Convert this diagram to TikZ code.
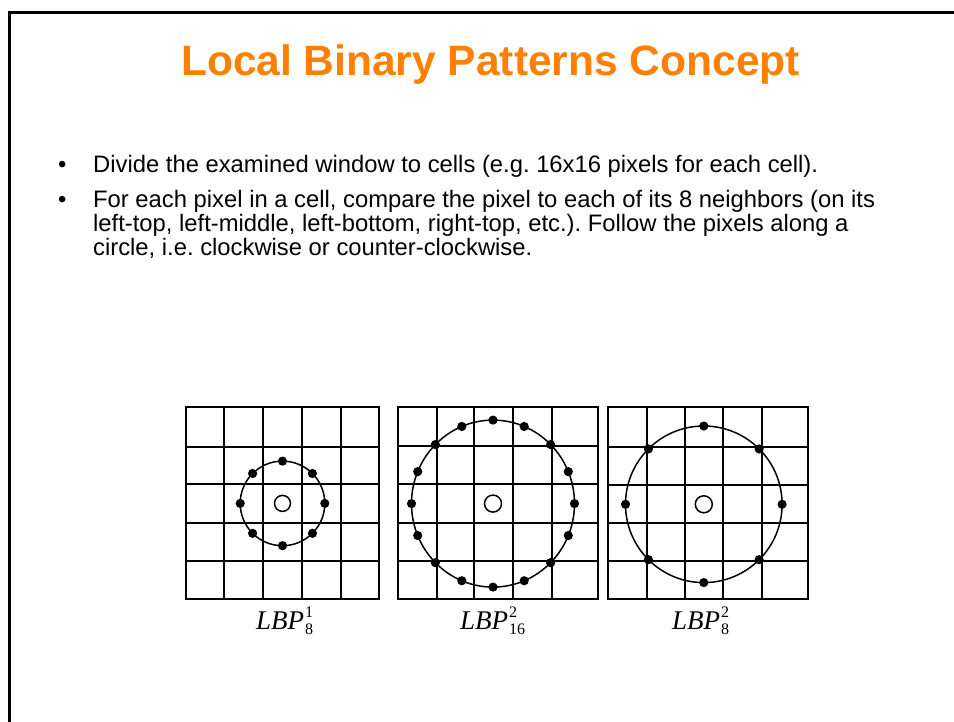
\documentclass[tikz,border=0pt]{standalone}
\usepackage{fontspec}
\setmainfont{Liberation Sans}
\newfontfamily\tms{Liberation Serif}
\definecolor{ttl}{RGB}{255,128,0}
\frenchspacing
\newcommand\lbplabel[2]{{\tms\itshape LBP}\kern1pt{\tms\fontsize{16}{16}\selectfont\rlap{\raisebox{11.5pt}{#1}}\raisebox{-5pt}{#2}}}
\tikzset{
  gridline/.style={line width=2.1pt, line cap=rect},
  ring/.style={line width=1.5pt},
  hole/.style={line width=1.5pt},
  body/.style={anchor=base west, inner sep=0pt, font=\fontsize{23.8}{24}\selectfont},
  lbl/.style={anchor=base west, inner sep=0pt, font=\fontsize{27}{28}\selectfont},
}
\begin{document}
\begin{tikzpicture}[x=1pt,y=-1pt]
\useasboundingbox (0,0) rectangle (954,722);
% frame
\draw[line width=3pt] (9.5,722) -- (9.5,12.5) -- (954,12.5);
% title
\node[anchor=base, inner sep=0pt, text=ttl, font=\fontsize{42.5}{48}\selectfont\bfseries] (title) at (490.5,76) {Local Binary Patterns Concept};
% bullets
\node[body] (b1) at (58,173) {•};
\node[body] (t1) at (93,173) {Divide the examined window to cells (e.g. 16x16 pixels for each cell).};
\node[body] (b2) at (58,208) {•};
\node[body] (t2) at (93,208) {For each pixel in a cell, compare the pixel to each of its 8 neighbors (on its};
\node[body] (t3) at (93,232) {left-top, left-middle, left-bottom, right-top, etc.). Follow the pixels along a};
\node[body] (t4) at (93,256) {circle, i.e. clockwise or counter-clockwise.};
% grid 1
\foreach \x in {185.7,224.3,263.3,302.3,340.7,379} \draw[gridline] (\x,407.3) -- (\x,599);
\foreach \y in {407.3,446.7,484.3,522.7,560.7,599} \draw[gridline] (185.7,\y) -- (379,\y);
% grid 2
\foreach \x in {397.7,436.7,474.3,513.3,551.7,598.3} \draw[gridline] (\x,407.3) -- (\x,599);
\foreach \y in {407.3,446.3,484.3,522.7,560.7,599} \draw[gridline] (397.7,\y) -- (598.3,\y);
% grid 3
\foreach \x in {608.3,646.7,685,723.3,761.7,808.3} \draw[gridline] (\x,407.3) -- (\x,599);
\foreach \y in {407.3,446.7,485,523.3,560.7,599} \draw[gridline] (608.3,\y) -- (808.3,\y);
% circles
\coordinate (c1) at (282.5,503.4);
\coordinate (c2) at (493,503.6);
\coordinate (c3) at (703.8,504.3);
\draw[ring] (c1) circle (42.3pt);
\draw[hole] (c1) circle (8pt);
\foreach \a in {0,45,...,315} \fill (c1) ++(\a:42.3pt) circle (4.6pt);
\draw[ring] (c2) ellipse (81.5pt and 83.5pt);
\draw[hole] (c2) circle (8.5pt);
\foreach \a in {0,22.5,...,337.5} \fill (c2) ++(\a:81.5pt and 83.5pt) circle (4.6pt);
\draw[ring] (c3) circle (78.3pt);
\draw[hole] (c3) circle (8.5pt);
\foreach \a in {0,45,...,315} \fill (c3) ++(\a:78.3pt) circle (4.6pt);
% labels
\node[lbl] (l1) at (256,629) {\lbplabel{1}{8}};
\node[lbl] (l2) at (460,629) {\lbplabel{2}{16}};
\node[lbl] (l3) at (672,629) {\lbplabel{2}{8}};
\end{tikzpicture}
\end{document}
